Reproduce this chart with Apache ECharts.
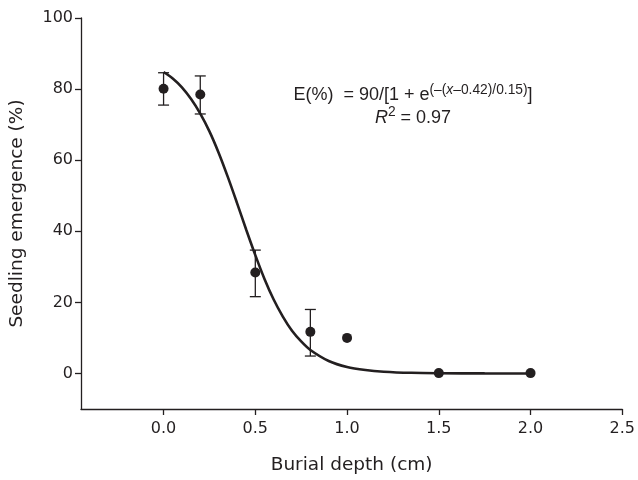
<!DOCTYPE html>
<html>
<head>
<meta charset="utf-8">
<script src="https://cdn.jsdelivr.net/npm/echarts@6/dist/echarts.min.js"></script>
<style>html,body{margin:0;padding:0;background:#fff}#c{width:638px;height:480px}</style>
</head>
<body>
<div id="c"></div>
<script>
// Observed data
var depth = [0.0, 0.2, 0.5, 0.8, 1.0, 1.5, 2.0];
var emergence = [80.1, 78.5, 28.4, 11.7, 10.0, 0.1, 0.1];
var errDepth = [0.0, 0.2, 0.5, 0.8];
var errUpper = [84.6, 83.7, 34.7, 18.0];
var errLower = [75.5, 73.0, 21.6, 4.9];
// Fitted curve
var curveX = [0, 0.05, 0.1, 0.15, 0.2, 0.25, 0.3, 0.35, 0.4, 0.45, 0.5, 0.55, 0.6, 0.65, 0.7, 0.75, 0.8, 0.9, 1.0, 1.1, 1.2, 1.35, 1.5, 1.75, 2.0];
var curveY = [84.8, 83.0, 80.5, 77.2, 73.1, 68.1, 62.1, 55.3, 48.0, 40.5, 33.3, 26.6, 20.8, 16.0, 12.0, 9.0, 6.6, 3.5, 1.8, 0.96, 0.5, 0.18, 0.07, 0.01, 0.0];
// Tick labels
var xTicks = [0, 0.5, 1.0, 1.5, 2.0, 2.5];
var yTicks = [0, 20, 40, 60, 80, 100];

var ink = '#231f20';
var axisFont = 'DejaVu Sans';
var annFont = 'Liberation Sans, Arial, sans-serif';

var pts = depth.map(function (d, i) { return [d, emergence[i]]; });
var errs = errDepth.map(function (d, i) { return [d, errLower[i], errUpper[i]]; });
var curve = curveX.map(function (d, i) { return [d, curveY[i]]; });

var chart = echarts.init(document.getElementById('c'), null, {renderer: 'canvas'});
chart.setOption({
  animation: false,
  backgroundColor: '#fff',
  grid: {left: 79, right: 15, top: 18, bottom: 71, containLabel: false},
  xAxis: {
    type: 'value', min: -0.45, max: 2.5,
    name: 'Burial depth (cm)', nameLocation: 'middle', nameGap: 47,
    nameTextStyle: {fontFamily: axisFont, fontSize: 18.5, color: ink},
    splitLine: {show: false},
    axisLine: {onZero: false, lineStyle: {color: ink, width: 1.3}},
    axisTick: {customValues: xTicks, length: 6, lineStyle: {color: ink, width: 1.3}},
    axisLabel: {customValues: xTicks, margin: 12, fontFamily: axisFont, fontSize: 16, color: ink,
      formatter: function (v) { return v.toFixed(1); }}
  },
  yAxis: {
    type: 'value', min: -10, max: 100,
    name: 'Seedling emergence (%)', nameLocation: 'middle', nameGap: 54,
    nameTextStyle: {fontFamily: axisFont, fontSize: 18.5, color: ink},
    splitLine: {show: false},
    axisLine: {onZero: false, lineStyle: {color: ink, width: 1.3}},
    axisTick: {customValues: yTicks, length: 6, lineStyle: {color: ink, width: 1.3}},
    axisLabel: {customValues: yTicks, margin: 8, fontFamily: axisFont, fontSize: 16, color: ink}
  },
  series: [
    {
      type: 'line', data: curve, smooth: 0.3, showSymbol: false, symbol: 'none',
      lineStyle: {color: ink, width: 2.6}, z: 2
    },
    {
      type: 'custom', data: errs, z: 3,
      encode: {x: 0, y: [1, 2]},
      renderItem: function (params, api) {
        var x = api.value(0);
        var lo = api.coord([x, api.value(1)]);
        var hi = api.coord([x, api.value(2)]);
        var w = 5.5;
        var st = {stroke: ink, lineWidth: 1.3};
        return {type: 'group', children: [
          {type: 'line', shape: {x1: lo[0], y1: lo[1], x2: hi[0], y2: hi[1]}, style: st},
          {type: 'line', shape: {x1: lo[0] - w, y1: lo[1], x2: lo[0] + w, y2: lo[1]}, style: st},
          {type: 'line', shape: {x1: hi[0] - w, y1: hi[1], x2: hi[0] + w, y2: hi[1]}, style: st}
        ]};
      }
    },
    {
      type: 'scatter', data: pts, symbol: 'circle', symbolSize: 10,
      itemStyle: {color: ink, opacity: 1}, z: 4
    }
  ],
  graphic: [
    {
      type: 'text', x: 413, y: 95.3,
      style: {
        text: '{n|E(%)  = 90/[1 + e}{s|(–(}{si|x}{s|–0.42)/0.15)}{n|]}',
        align: 'center', verticalAlign: 'middle', fill: ink,
        rich: {
          n: {fontFamily: annFont, fontSize: 18, lineHeight: 24, color: ink, verticalAlign: 'middle'},
          s: {fontFamily: annFont, fontSize: 13.8, lineHeight: 14, color: ink, verticalAlign: 'top'},
          si: {fontFamily: annFont, fontSize: 13.8, lineHeight: 14, fontStyle: 'italic', color: ink, verticalAlign: 'top'}
        }
      }
    },
    {
      type: 'text', x: 413, y: 117.6,
      style: {
        text: '{ni|R}{s|2}{n| = 0.97}',
        align: 'center', verticalAlign: 'middle', fill: ink,
        rich: {
          n: {fontFamily: annFont, fontSize: 18, lineHeight: 24, color: ink, verticalAlign: 'middle'},
          ni: {fontFamily: annFont, fontSize: 18, lineHeight: 24, fontStyle: 'italic', color: ink, verticalAlign: 'middle'},
          s: {fontFamily: annFont, fontSize: 13.8, lineHeight: 14, color: ink, verticalAlign: 'top'}
        }
      }
    }
  ]
});
</script>
</body>
</html>
